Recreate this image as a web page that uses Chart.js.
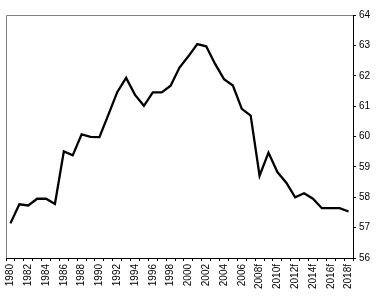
<!DOCTYPE html>
<html>
<head>
<meta charset="utf-8">
<script src="https://cdn.jsdelivr.net/npm/chart.js@4"></script>
<style>
  html, body { margin: 0; padding: 0; background: #fff; }
  #wrap { width: 380px; height: 300px; }
</style>
</head>
<body>
<div id="wrap"><canvas id="rateChart" width="380" height="300"></canvas></div>
<script>
// years, forecast years carry an "f"
const years = ['1980','1981','1982','1983','1984','1985','1986','1987','1988','1989',
  '1990','1991','1992','1993','1994','1995','1996','1997','1998','1999',
  '2000','2001','2002','2003','2004','2005','2006','2007','2008f','2009f',
  '2010f','2011f','2012f','2013f','2014f','2015f','2016f','2017f','2018f'];
const rate = [57.14, 57.77, 57.73, 57.95, 57.95, 57.78, 59.51, 59.38, 60.07, 59.99,
  59.98, 60.71, 61.46, 61.93, 61.37, 61.01, 61.45, 61.45, 61.67, 62.27,
  62.64, 63.04, 62.97, 62.39, 61.89, 61.68, 60.91, 60.69, 58.71, 59.47,
  58.83, 58.48, 58.00, 58.13, 57.95, 57.64, 57.64, 57.64, 57.53];
const yMin = 56, yMax = 64;

// grey left + top frame like the excel plot area
const frame = {
  id: 'frame',
  afterDraw(c){
    const a = c.chartArea, ctx = c.ctx;
    ctx.save();
    ctx.strokeStyle = '#808080';
    ctx.lineWidth = 1;
    ctx.beginPath();
    ctx.moveTo(Math.round(a.left) + 0.5, Math.round(a.bottom));
    ctx.lineTo(Math.round(a.left) + 0.5, Math.round(a.top) + 0.5);
    ctx.lineTo(Math.round(a.right), Math.round(a.top) + 0.5);
    ctx.stroke();
    ctx.restore();
  }
};

new Chart(document.getElementById('rateChart'), {
  type: 'line',
  data: { labels: years, datasets: [{ data: rate, borderColor: '#000', borderWidth: 2.3,
    pointRadius: 0, tension: 0, fill: false }] },
  options: {
    responsive: false,
    animation: false,
    devicePixelRatio: 1,
    layout: { padding: { left: 6, top: 15, right: 0, bottom: 0 } },
    plugins: { legend: { display: false }, tooltip: { enabled: false } },
    scales: {
      x: {
        offset: true,
        grid: { offset: true, drawOnChartArea: false, color: '#000', tickLength: 3 },
        border: { color: '#000', width: 1 },
        ticks: {
          autoSkip: false, minRotation: 90, maxRotation: 90, padding: 3,
          color: '#000', font: { family: "'Liberation Sans', Arial, sans-serif", size: 10 },
          callback: (v, i) => i % 2 ? '' : years[i]
        },
        afterFit: s => { s.height = 42; }
      },
      y: {
        position: 'right',
        min: yMin, max: yMax,
        grid: { drawOnChartArea: false, color: '#000', tickLength: 3 },
        border: { color: '#000', width: 1 },
        ticks: { stepSize: 1, padding: 3, color: '#000',
          font: { family: "'Liberation Sans Narrow', 'Liberation Sans', sans-serif", size: 10 } },
        afterFit: s => { s.width = 27; }
      }
    }
  },
  plugins: [frame]
});
</script>
</body>
</html>
